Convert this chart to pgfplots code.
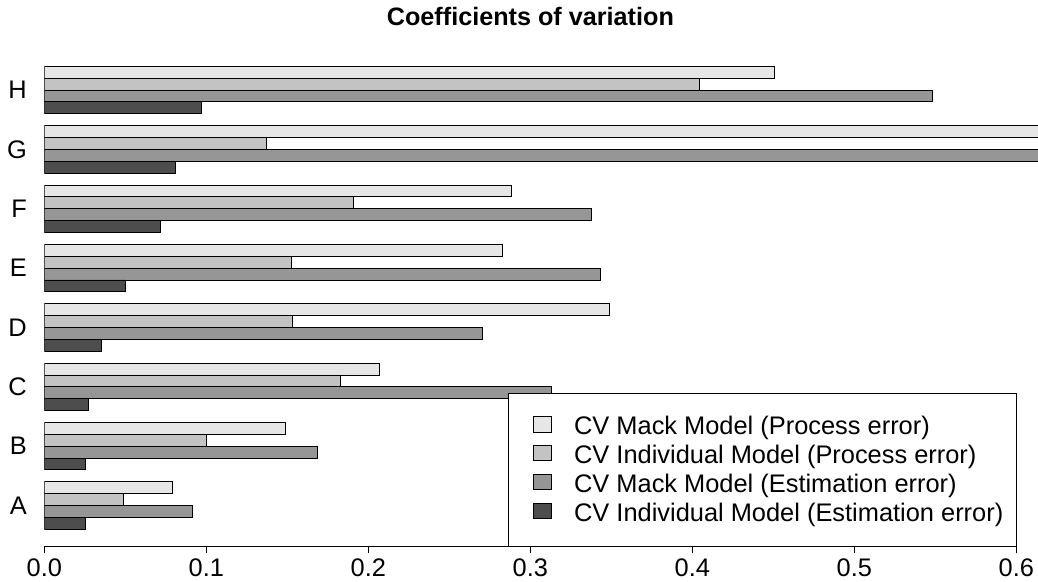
\documentclass[border=0pt]{standalone}
\usepackage{fontspec}
\setmainfont{Liberation Sans}
\usepackage{pgfplots}
\pgfplotsset{compat=1.18}
\definecolor{cMP}{HTML}{E6E6E6}
\definecolor{cIP}{HTML}{C3C3C3}
\definecolor{cME}{HTML}{969696}
\definecolor{cIE}{HTML}{4D4D4D}
\begin{document}
\begin{tikzpicture}[x=1pt,y=1pt]
\useasboundingbox (0,0) rectangle (1038,581);
\node[anchor=base, inner sep=0pt, font=\fontsize{25.2}{30}\selectfont\bfseries] at (530.4,555) {Coefficients of variation};
\begin{axis}[
  at={(44.3pt,34.3pt)}, anchor=south west,
  scale only axis, width=993.7pt, height=492.3pt,
  xmin=0, xmax=0.6134, ymin=-3.466, ymax=38,
  clip mode=individual,
  axis line style={draw=none},
  ytick={0,5,10,15,20,25,30,35},
  yticklabels={A,B,C,D,E,F,G,H},
  ytick style={draw=none},
  xtick={0,0.1,0.2,0.3,0.4,0.5,0.6},
  xticklabels={0.0,0.1,0.2,0.3,0.4,0.5,0.6},
  xtick pos=bottom,
  xtick align=outside,
  major tick length=6.6pt,
  xtick style={line width=0.8pt, black},
  tick label style={font=\fontsize{25.4}{30}\selectfont},
  xticklabel style={anchor=north, inner sep=0pt, yshift=-5.7pt},
  yticklabel style={anchor=east, inner sep=0pt, xshift=-17.3pt},
  legend cell align=left,
  legend image code/.code={\path (0pt,0pt); \draw[#1, line width=0.9pt] (11pt,-5.5pt) rectangle (29.7pt,10.1pt);},
  legend style={at={(0.97815,0)}, anchor=south east, draw=black, line width=0.8pt, fill=white, outer sep=0pt,
    inner xsep=13pt, inner ysep=21.5pt, row sep=4.9pt, column sep=22pt,
    font=\fontsize{25.4}{30}\selectfont,
    nodes={inner sep=0pt, text height=20.2pt, text depth=3.8pt}},
]
\addplot[xbar, bar width=1, bar shift=1.5, fill=cMP, draw=black, line width=0.9pt] coordinates {
(0.0788,0) (0.1490,5) (0.2066,10) (0.3490,15) (0.2825,20) (0.2885,25) (0.7000,30) (0.4510,35)};
\addlegendentry{CV Mack Model (Process error)}
\addplot[xbar, bar width=1, bar shift=0.5, fill=cIP, draw=black, line width=0.9pt] coordinates {
(0.0490,0) (0.0998,5) (0.1827,10) (0.1531,15) (0.1525,20) (0.1907,25) (0.1373,30) (0.4043,35)};
\addlegendentry{CV Individual Model (Process error)}
\addplot[xbar, bar width=1, bar shift=-0.5, fill=cME, draw=black, line width=0.9pt] coordinates {
(0.0913,0) (0.1686,5) (0.3128,10) (0.2704,15) (0.3430,20) (0.3379,25) (0.7500,30) (0.5480,35)};
\addlegendentry{CV Mack Model (Estimation error)}
\addplot[xbar, bar width=1, bar shift=-1.5, fill=cIE, draw=black, line width=0.9pt] coordinates {
(0.0254,0) (0.0254,5) (0.0274,10) (0.0352,15) (0.0504,20) (0.0719,25) (0.0811,30) (0.0972,35)};
\addlegendentry{CV Individual Model (Estimation error)}
\draw[line width=0.8pt] (axis cs:0,-3.466) -- (axis cs:0.6,-3.466);
\end{axis}
\end{tikzpicture}
\end{document}
